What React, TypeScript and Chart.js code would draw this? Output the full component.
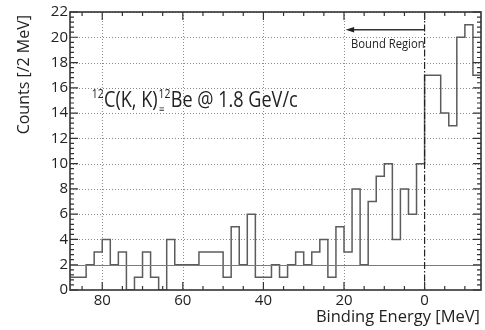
import React, { useEffect, useRef } from 'react';
import { Chart, registerables } from 'chart.js';

Chart.register(...registerables);

// Left edges of the 2 MeV bins (binding energy, MeV), left-to-right on the plot
const binStarts = [
  88, 86, 84, 82, 80, 78, 76, 74, 72, 70, 68, 66, 64, 62, 60, 58, 56, 54, 52, 50,
  48, 46, 44, 42, 40, 38, 36, 34, 32, 30, 28, 26, 24, 22, 20, 18, 16, 14, 12, 10,
  8, 6, 4, 2, 0, -2, -4, -6, -8, -10, -12,
];
const lastEdge = -14;
// Counts per bin
const counts = [
  1, 1, 2, 3, 4, 2, 3, 0, 1, 3, 1, 0, 4, 2, 2, 2, 3, 3, 3, 1,
  5, 2, 6, 1, 1, 2, 1, 2, 3, 2, 3, 4, 1, 5, 3, 8, 2, 7, 9, 10,
  4, 8, 6, 10, 17, 17, 14, 13, 20, 21, 17,
];
const xTickValues = [0, 20, 40, 60, 80];
const yTickValues = [0, 2, 4, 6, 8, 10, 12, 14, 16, 18, 20, 22];
const backgroundLevel = 2.0;
const boundLine = 0;
const arrowFrom = 0;
const arrowTo = 19.6;
const arrowLevel = 20.6;
const boundLabelLevel = 19.15;
const xTitle = 'Binding Energy [MeV]';
const yTitle = 'Counts [/2 MeV]';
const boundLabel = 'Bound Region';

const FONT = '"Open Sans", sans-serif';

function drawScaled(ctx: CanvasRenderingContext2D, text: string, x: number, y: number, font: string, sx: number) {
  ctx.save();
  ctx.font = font;
  ctx.translate(x, y);
  ctx.scale(sx, 1);
  ctx.fillText(text, 0, 0);
  const w = ctx.measureText(text).width * sx;
  ctx.restore();
  return w;
}

const decor = {
  id: 'decor',
  beforeDatasetsDraw(chart: any) {
    const { ctx, chartArea: a, scales } = chart;
    const x = scales.x, y = scales.y;
    ctx.save();
    ctx.strokeStyle = '#8c8c8c';
    ctx.lineWidth = 1;
    ctx.setLineDash([1, 2]);
    for (const v of yTickValues) {
      if (v <= 0) continue;
      const py = Math.round(y.getPixelForValue(v)) + 0.5;
      ctx.beginPath(); ctx.moveTo(a.left, py); ctx.lineTo(a.right, py); ctx.stroke();
    }
    for (const v of xTickValues) {
      if (v === boundLine) continue;
      const px = Math.round(x.getPixelForValue(v)) + 0.5;
      ctx.beginPath(); ctx.moveTo(px, a.top); ctx.lineTo(px, a.bottom); ctx.stroke();
    }
    ctx.restore();
  },
  afterDatasetsDraw(chart: any) {
    const { ctx, chartArea: a, scales } = chart;
    const x = scales.x, y = scales.y;
    ctx.save();
    // background level line
    ctx.strokeStyle = '#6b78b8';
    ctx.lineWidth = 1;
    const by = Math.round(y.getPixelForValue(backgroundLevel)) + 0.5;
    ctx.beginPath(); ctx.moveTo(a.left, by); ctx.lineTo(a.right, by); ctx.stroke();

    // bound threshold dash-dot line
    ctx.strokeStyle = '#222';
    ctx.lineWidth = 1.2;
    ctx.setLineDash([7, 2, 1.5, 2]);
    const bx = x.getPixelForValue(boundLine);
    ctx.beginPath(); ctx.moveTo(bx, a.top); ctx.lineTo(bx, a.bottom); ctx.stroke();
    ctx.setLineDash([]);

    // frame
    ctx.strokeStyle = '#333';
    ctx.lineWidth = 1.6;
    ctx.strokeRect(a.left, a.top, a.right - a.left, a.bottom - a.top);

    // ticks (inward)
    ctx.lineWidth = 1.2;
    ctx.beginPath();
    for (let k = 0; k <= 55; k++) {
      const v = k * 0.4;
      const major = Math.abs(v / 2 - Math.round(v / 2)) < 1e-6;
      const len = major ? 8 : 4;
      const py = y.getPixelForValue(v);
      ctx.moveTo(a.left, py); ctx.lineTo(a.left + len, py);
      ctx.moveTo(a.right, py); ctx.lineTo(a.right - len, py);
    }
    for (let v = -10; v <= 85; v += 5) {
      const major = v % 20 === 0;
      const len = major ? 8 : 4;
      const px = x.getPixelForValue(v);
      ctx.moveTo(px, a.bottom); ctx.lineTo(px, a.bottom - len);
      ctx.moveTo(px, a.top); ctx.lineTo(px, a.top + len);
    }
    ctx.stroke();

    // arrow
    const ay = y.getPixelForValue(arrowLevel);
    const ax0 = x.getPixelForValue(arrowFrom);
    const ax1 = x.getPixelForValue(arrowTo);
    ctx.strokeStyle = '#333';
    ctx.fillStyle = '#222';
    ctx.lineWidth = 1.5;
    ctx.beginPath(); ctx.moveTo(ax0, ay); ctx.lineTo(ax1 + 6, ay); ctx.stroke();
    ctx.beginPath(); ctx.moveTo(ax1, ay); ctx.lineTo(ax1 + 8.5, ay - 2.8); ctx.lineTo(ax1 + 8.5, ay + 2.8); ctx.closePath(); ctx.fill();

    // Bound Region label
    ctx.fillStyle = '#222';
    ctx.textBaseline = 'alphabetic';
    ctx.textAlign = 'right';
    ctx.save();
    ctx.font = `12.5px ${FONT}`;
    ctx.translate(bx, y.getPixelForValue(boundLabelLevel));
    ctx.scale(0.9, 1);
    ctx.fillText(boundLabel, 0, 0);
    ctx.restore();

    // reaction label
    ctx.textAlign = 'left';
    const sx = 0.86;
    const base = y.getPixelForValue(14.5);
    let cx = x.getPixelForValue(82.6);
    const supFont = `12px ${FONT}`;
    const mainFont = `21px ${FONT}`;
    cx += drawScaled(ctx, '12', cx, base - 8.5, supFont, sx) + 0.5;
    cx += drawScaled(ctx, 'C(K, K)', cx, base, mainFont, sx) + 1;
    drawScaled(ctx, '\u2261', cx + 0.5, base + 5.5, `9px ${FONT}`, 1);
    cx += drawScaled(ctx, '12', cx, base - 8.5, supFont, sx) + 0.5;
    drawScaled(ctx, 'Be @ 1.8 GeV/c', cx, base, mainFont, sx);

    // axis titles
    ctx.font = `16.5px ${FONT}`;
    ctx.textAlign = 'right';
    ctx.textBaseline = 'middle';
    ctx.fillText(xTitle, a.right - 1, 317);
    ctx.save();
    ctx.translate(24, a.top + 3);
    ctx.rotate(-Math.PI / 2);
    ctx.font = `16px ${FONT}`;
    ctx.fillText(yTitle, 0, 0);
    ctx.restore();

    ctx.restore();
  },
};

export default function App() {
  const ref = useRef<HTMLCanvasElement | null>(null);
  useEffect(() => {
    if (!ref.current) return;
    const points = binStarts.map((e, i) => ({ x: e, y: counts[i] }));
    points.push({ x: lastEdge, y: counts[counts.length - 1] });
    const chart = new Chart(ref.current, {
      type: 'line',
      data: {
        datasets: [
          {
            data: points,
            stepped: 'before',
            borderColor: '#5c5c5c',
            borderWidth: 1.5,
            pointRadius: 0,
            fill: false,
          },
        ],
      },
      options: {
        animation: false,
        responsive: false,
        devicePixelRatio: 1,
        layout: { padding: { top: 12, right: 4, left: 0, bottom: 0 } },
        plugins: { legend: { display: false }, tooltip: { enabled: false } },
        scales: {
          x: {
            type: 'linear',
            reverse: true,
            min: lastEdge,
            max: binStarts[0],
            grid: { display: false, drawTicks: false },
            border: { display: false },
            afterBuildTicks: (s: any) => { s.ticks = xTickValues.map((v) => ({ value: v })); },
            afterFit: (s: any) => { s.height = 40; },
            ticks: {
              padding: 2,
              maxRotation: 0,
              color: '#222',
              font: { family: FONT, size: 15 },
              callback: (v: any) => String(v),
            },
          },
          y: {
            type: 'linear',
            min: 0,
            max: 22,
            grid: { display: false, drawTicks: false },
            border: { display: false },
            afterBuildTicks: (s: any) => { s.ticks = yTickValues.map((v) => ({ value: v })); },
            afterFit: (s: any) => { s.width = 70; },
            ticks: {
              padding: 2,
              color: '#222',
              font: { family: FONT, size: 15 },
              callback: (v: any) => String(v),
            },
          },
        },
      },
      plugins: [decor],
    });
    return () => chart.destroy();
  }, []);
  return (
    <div style={{ position: 'fixed', left: 0, top: 0, width: 485, height: 330, background: '#fff' }}>
      <canvas ref={ref} width={485} height={330} style={{ display: 'block' }} />
    </div>
  );
}
